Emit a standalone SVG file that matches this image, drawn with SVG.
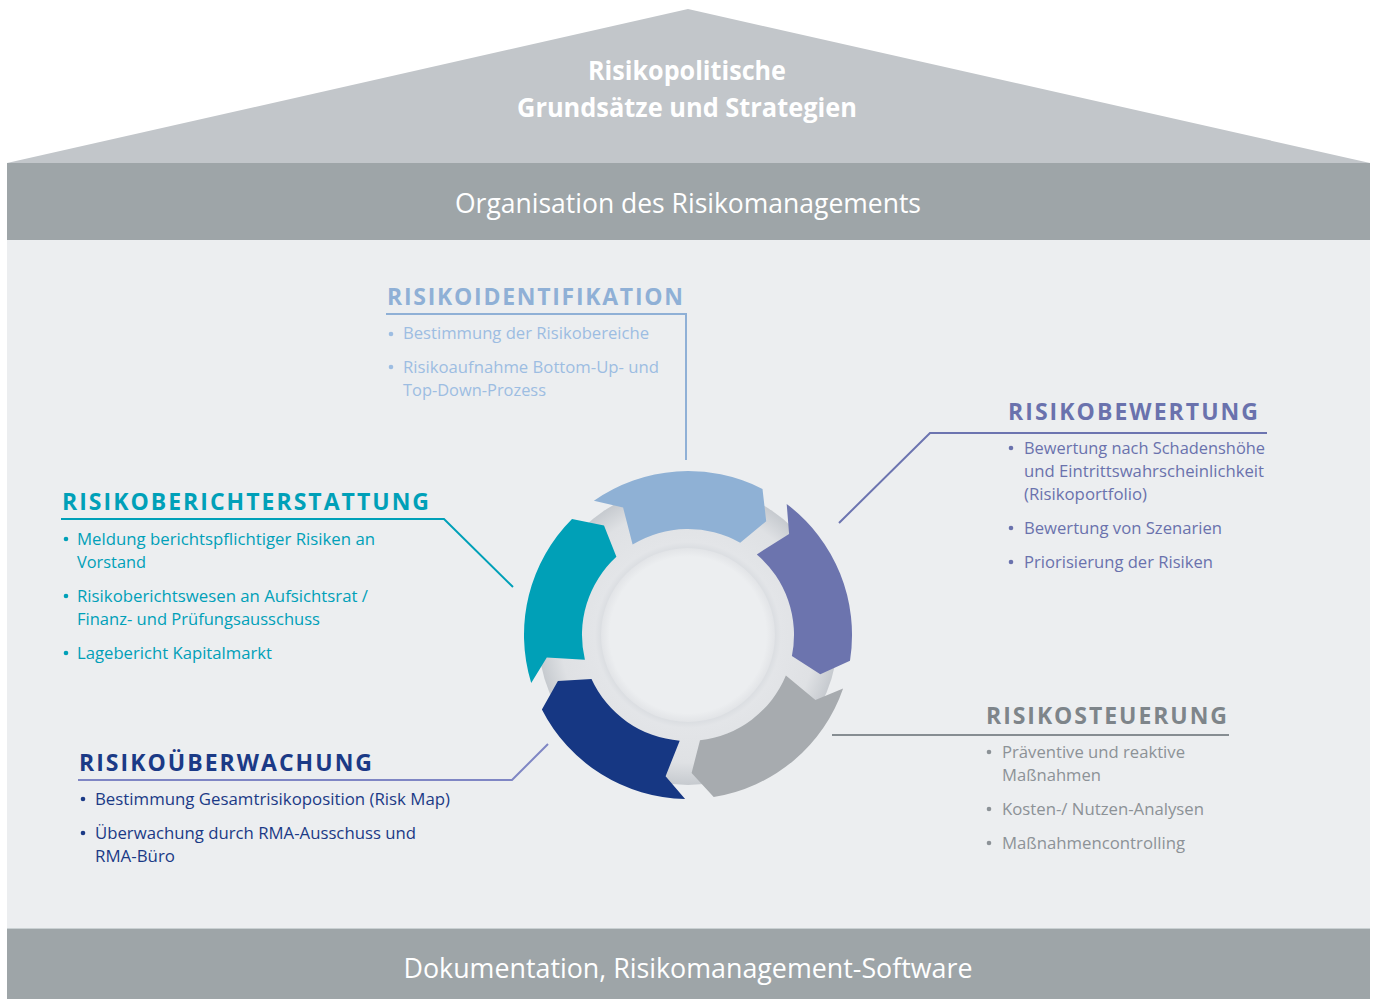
<svg xmlns="http://www.w3.org/2000/svg" width="1375" height="999" viewBox="0 0 1375 999">
<defs>
<radialGradient id="ringGrad" cx="688" cy="635" r="150" gradientUnits="userSpaceOnUse">
<stop offset="0.57" stop-color="#d9dce0"/>
<stop offset="0.62" stop-color="#e3e5e8"/>
<stop offset="0.85" stop-color="#dfe1e4"/>
<stop offset="1" stop-color="#c6cacf"/>
</radialGradient>
<radialGradient id="coreGrad" cx="688" cy="635" r="87" gradientUnits="userSpaceOnUse">
<stop offset="0.9" stop-color="#eceef0"/>
<stop offset="1" stop-color="#e2e4e7"/>
</radialGradient>
</defs>
<style>
.t{font-family:"Open Sans","Noto Sans","Liberation Sans",sans-serif;}
.h{font-weight:700;font-size:23px;}
.b{font-size:17px;}
.w{fill:#ffffff;}
.c1{fill:#8fb0d6;} .c1b{fill:#9dbde2;} .s1{stroke:#8fb0d6;}
.c2{fill:#6a72ad;} .s2{stroke:#6c74b0;}
.c3{fill:#00a0b8;} .s3{stroke:#00a0b8;}
.c4{fill:#1b3a86;} .s4{stroke:#7f86c4;}
.c5{fill:#7e858a;} .c5b{fill:#8c9297;} .s5{stroke:#868d92;}
.ln{fill:none;stroke-width:2;}
</style>
<rect width="1375" height="999" fill="#ffffff"/>

<g id="roof">
<polygon points="7,163 688,9 1370,163" fill="#c2c6ca"/>
<text class="t w" x="687" y="80" font-size="27" font-weight="700" text-anchor="middle" textLength="198" lengthAdjust="spacingAndGlyphs">Risikopolitische</text>
<text class="t w" x="687" y="117" font-size="27" font-weight="700" text-anchor="middle" textLength="340" lengthAdjust="spacingAndGlyphs">Grundsätze und Strategien</text>
</g>

<g id="organisation">
<rect x="7" y="163" width="1363" height="77" fill="#9ea5a8"/>
<text class="t w" x="688" y="213" font-size="27" text-anchor="middle" textLength="466" lengthAdjust="spacingAndGlyphs">Organisation des Risikomanagements</text>
</g>

<g id="panel">
<rect x="7" y="240" width="1363" height="688" fill="#eceef0"/>
</g>

<g id="dokumentation">
<rect x="7" y="928" width="1363" height="71" fill="#9ea5a8"/>
<line x1="7" y1="928.5" x2="1370" y2="928.5" stroke="#c9d0d2" stroke-width="1"/>
<text class="t w" x="688" y="978" font-size="27" text-anchor="middle" textLength="569" lengthAdjust="spacingAndGlyphs">Dokumentation, Risikomanagement-Software</text>
</g>

<g id="connectors">
<polyline class="ln s1" points="386,314 686,314 686,460"/>
<polyline class="ln s2" points="839,523 930,433 1267,433"/>
<polyline class="ln s3" points="61,519 444,519 513,587"/>
<polyline class="ln s4" points="78,780 512,780 548,744"/>
<polyline class="ln s5" points="832,735 1229,735"/>
</g>

<g id="cycle">
<circle cx="688" cy="635" r="150" fill="url(#ringGrad)"/>
<circle cx="688" cy="635" r="87" fill="url(#coreGrad)"/>
<g id="arrow-identifikation">
<path d="M593.9,500.7 A164,164 0 0 1 762.5,488.9 L766.2,521.3 L740.2,542.7 A106,106 0 0 0 632.6,544.6 L623.1,507.6 Z" fill="#8fb1d5"/>
</g>
<g id="arrow-bewertung">
<path d="M786.7,504.0 A164,164 0 0 1 850.0,660.7 L820.3,674.2 L791.9,656.1 A106,106 0 0 0 756.8,554.4 L789.1,533.9 Z" fill="#6c74ae"/>
</g>
<g id="arrow-steuerung">
<path d="M843.1,688.4 A164,164 0 0 1 713.7,797.0 L691.6,773.0 L700.0,740.3 A106,106 0 0 0 785.9,675.6 L815.4,699.9 Z" fill="#a7abaf"/>
</g>
<g id="arrow-ueberwachung">
<path d="M685.1,799.0 A164,164 0 0 1 541.9,709.5 L557.9,681.1 L591.5,679.0 A106,106 0 0 0 679.7,740.7 L665.6,776.2 Z" fill="#163783"/>
</g>
<g id="arrow-berichterstattung">
<path d="M531.2,683.0 A164,164 0 0 1 572.0,519.0 L604.0,525.5 L616.4,556.8 A106,106 0 0 0 584.9,659.7 L546.8,657.4 Z" fill="#00a0b7"/>
</g>
</g>

<g id="risikoidentifikation">
<text class="t h c1" x="387" y="305" textLength="296" lengthAdjust="spacing">RISIKOIDENTIFIKATION</text>
<circle class="c1b" cx="391" cy="334" r="2.3"/>
<circle class="c1b" cx="391" cy="367" r="2.3"/>
<text class="t b c1b" x="403" y="339" textLength="246" lengthAdjust="spacingAndGlyphs">Bestimmung der Risikobereiche</text>
<text class="t b c1b" x="403" y="373" textLength="256" lengthAdjust="spacingAndGlyphs">Risikoaufnahme Bottom-Up- und</text>
<text class="t b c1b" x="403" y="396" textLength="143" lengthAdjust="spacingAndGlyphs">Top-Down-Prozess</text>
</g>

<g id="risikobewertung">
<text class="t h c2" x="1008" y="420" textLength="250" lengthAdjust="spacing">RISIKOBEWERTUNG</text>
<circle class="c2" cx="1011" cy="448" r="2.3"/>
<circle class="c2" cx="1011" cy="528" r="2.3"/>
<circle class="c2" cx="1011" cy="562" r="2.3"/>
<text class="t b c2" x="1024" y="454" textLength="241" lengthAdjust="spacingAndGlyphs">Bewertung nach Schadenshöhe</text>
<text class="t b c2" x="1024" y="477" textLength="240" lengthAdjust="spacingAndGlyphs">und Eintrittswahrscheinlichkeit</text>
<text class="t b c2" x="1024" y="500" textLength="123" lengthAdjust="spacingAndGlyphs">(Risikoportfolio)</text>
<text class="t b c2" x="1024" y="534" textLength="198" lengthAdjust="spacingAndGlyphs">Bewertung von Szenarien</text>
<text class="t b c2" x="1024" y="568" textLength="189" lengthAdjust="spacingAndGlyphs">Priorisierung der Risiken</text>
</g>

<g id="risikoberichterstattung">
<text class="t h c3" x="62" y="510" textLength="367" lengthAdjust="spacing">RISIKOBERICHTERSTATTUNG</text>
<circle class="c3" cx="66" cy="539" r="2.3"/>
<circle class="c3" cx="66" cy="596" r="2.3"/>
<circle class="c3" cx="66" cy="653" r="2.3"/>
<text class="t b c3" x="77" y="545" textLength="298" lengthAdjust="spacingAndGlyphs">Meldung berichtspflichtiger Risiken an</text>
<text class="t b c3" x="77" y="568" textLength="69" lengthAdjust="spacingAndGlyphs">Vorstand</text>
<text class="t b c3" x="77" y="602" textLength="291" lengthAdjust="spacingAndGlyphs">Risikoberichtswesen an Aufsichtsrat /</text>
<text class="t b c3" x="77" y="625" textLength="243" lengthAdjust="spacingAndGlyphs">Finanz- und Prüfungsausschuss</text>
<text class="t b c3" x="77" y="659" textLength="195" lengthAdjust="spacingAndGlyphs">Lagebericht Kapitalmarkt</text>
</g>

<g id="risikoueberwachung">
<text class="t h c4" x="79" y="771" textLength="293" lengthAdjust="spacing">RISIKOÜBERWACHUNG</text>
<circle class="c4" cx="83" cy="799" r="2.3"/>
<circle class="c4" cx="83" cy="833" r="2.3"/>
<text class="t b c4" x="95" y="805" textLength="355" lengthAdjust="spacingAndGlyphs">Bestimmung Gesamtrisikoposition (Risk Map)</text>
<text class="t b c4" x="95" y="839" textLength="321" lengthAdjust="spacingAndGlyphs">Überwachung durch RMA-Ausschuss und</text>
<text class="t b c4" x="95" y="862" textLength="80" lengthAdjust="spacingAndGlyphs">RMA-Büro</text>
</g>

<g id="risikosteuerung">
<text class="t h c5" x="986" y="724" textLength="241" lengthAdjust="spacing">RISIKOSTEUERUNG</text>
<circle class="c5b" cx="989" cy="752" r="2.3"/>
<circle class="c5b" cx="989" cy="809" r="2.3"/>
<circle class="c5b" cx="989" cy="843" r="2.3"/>
<text class="t b c5b" x="1002" y="758" textLength="183" lengthAdjust="spacingAndGlyphs">Präventive und reaktive</text>
<text class="t b c5b" x="1002" y="781" textLength="99" lengthAdjust="spacingAndGlyphs">Maßnahmen</text>
<text class="t b c5b" x="1002" y="815" textLength="202" lengthAdjust="spacingAndGlyphs">Kosten-/ Nutzen-Analysen</text>
<text class="t b c5b" x="1002" y="849" textLength="183" lengthAdjust="spacingAndGlyphs">Maßnahmencontrolling</text>
</g>
</svg>
